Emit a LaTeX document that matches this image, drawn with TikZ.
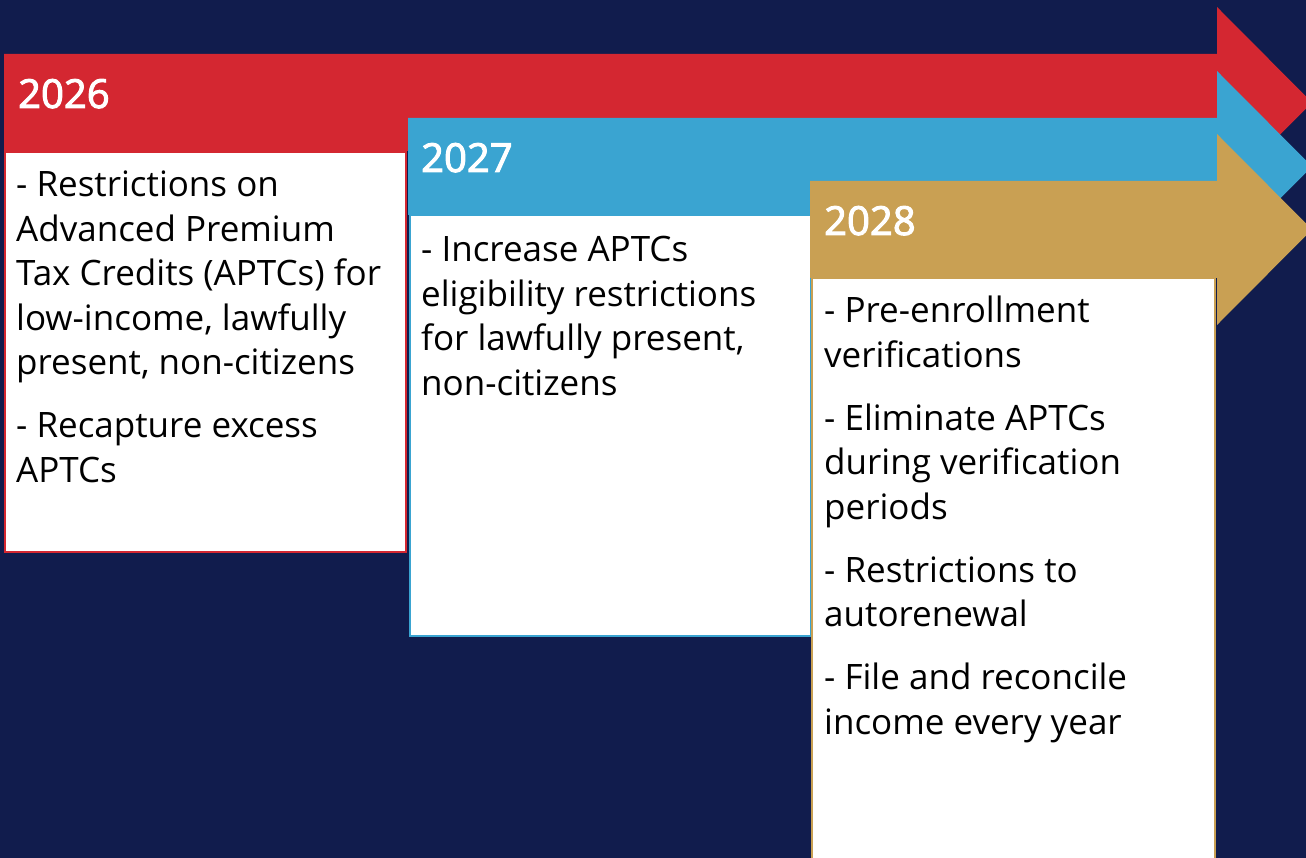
\documentclass[tikz,border=0pt]{standalone}
\usepackage{fontspec}
\setmainfont{Open Sans}
\newfontfamily\hdrfont[FakeBold=2.5]{Open Sans}
\definecolor{bgnavy}{HTML}{111C4D}
\definecolor{tlred}{HTML}{D42731}
\definecolor{tlblue}{HTML}{3AA4D1}
\definecolor{tlgold}{HTML}{C9A053}
\tikzset{
  body/.style={anchor=base west, inner sep=0pt, text=black, font=\fontsize{35}{44.5}\selectfont},
  year/.style={anchor=base west, inner sep=0pt, text=white, font=\hdrfont\fontsize{40}{48}\selectfont},
  card/.style={fill=white, line width=2pt},
}
\begin{document}
\begin{tikzpicture}[x=1pt,y=-1pt]
\useasboundingbox (0,0) rectangle (1306,858);
\fill[bgnavy] (0,0) rectangle (1306,858);
% 2026
\fill[tlred] (4,54) -- (1217,54) -- (1217,7) -- (1312,102.5) -- (1217,198) -- (1217,151) -- (4,151) -- cycle;
\draw[card, draw=tlred] (5,152) rectangle (406,552);
\node[year] (y26) at (18,108) {2026};
\node[body] (b26) at (16,197) {\parbox[t]{390pt}{\raggedright
- Restrictions on\\ Advanced Premium\\ Tax Credits (APTCs) for\\ low-income, lawfully\\ present, non-citizens\\[18.5pt]
- Recapture excess\\ APTCs}};
% 2027
\fill[tlblue] (408,118) -- (1217,118) -- (1217,71) -- (1312,166.5) -- (1217,262) -- (1217,215) -- (408,215) -- cycle;
\draw[card, draw=tlblue] (410,215) rectangle (811,636);
\node[year] (y27) at (421,172) {2027};
\node[body] (b27) at (421,262) {\parbox[t]{385pt}{\raggedright
- Increase APTCs\\ eligibility restrictions\\ for lawfully present,\\ non-citizens}};
% 2028
\fill[tlgold] (810,181) -- (1217,181) -- (1217,134) -- (1312,229.5) -- (1217,325) -- (1217,278) -- (810,278) -- cycle;
\draw[card, draw=tlgold] (812,278) rectangle (1215,870);
\node[year] (y28) at (824,235) {2028};
\node[body] (b28) at (824,323) {\parbox[t]{385pt}{\raggedright
- Pre-enrollment\\ verifications\\[18.5pt]
- Eliminate APTCs\\ during verification\\ periods\\[18.5pt]
- Restrictions to\\ autorenewal\\[18.5pt]
- File and reconcile\\ income every year}};
\end{tikzpicture}
\end{document}
